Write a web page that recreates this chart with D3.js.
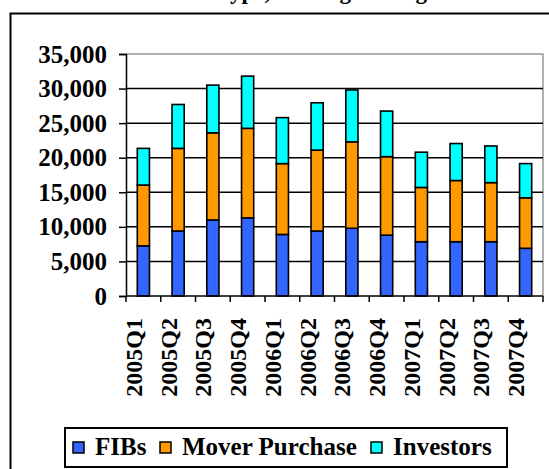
<html>
<script src="https://d3js.org/d3.v7.min.js"></script>
<style>
body{margin:0;background:#fff;}
svg text{font-family:"Liberation Serif","Times New Roman",serif;font-weight:bold;}
</style>
<div id="chart"></div>
<script>
const quarters = ['2005Q1','2005Q2','2005Q3','2005Q4','2006Q1','2006Q2','2006Q3','2006Q4','2007Q1','2007Q2','2007Q3','2007Q4'];
const fibs     = [7250, 9400, 11000, 11300, 8900, 9400, 9800, 8800, 7850, 7850, 7850, 6900];
const movers   = [8800, 11950, 12600, 12950, 10250, 11700, 12500, 11350, 7850, 8850, 8550, 7300];
const investors= [5300, 6350, 6900, 7550, 6650, 6850, 7500, 6600, 5100, 5350, 5300, 4950];
const seriesNames = ['FIBs','Mover Purchase','Investors'];
const seriesColors = ['#3366ff','#ff9900','#00ffff'];
const yTicks = [0,5000,10000,15000,20000,25000,30000,35000];

const W = 549, H = 469;
const plot = {left:126, right:543, top:54, bottom:296};

const svg = d3.select('#chart').append('svg')
  .attr('width', W).attr('height', H);

// outer frame (runs off the right and bottom edges)
svg.append('rect')
  .attr('x',10.5).attr('y',13.5).attr('width',560).attr('height',480)
  .attr('fill','none').attr('stroke','#000').attr('stroke-width',2);

// title, only its descenders show at the top edge
svg.append('text')
  .attr('text-anchor','middle')
  .attr('x',337).attr('y',-1.5)
  .style('font-size','23px')
  .text('Type, Wellington Region');

const x = d3.scaleBand()
  .domain(quarters)
  .range([plot.left, plot.right])
  .paddingInner(0.65).paddingOuter(0.325);

const y = d3.scaleLinear()
  .domain([0,35000])
  .range([plot.bottom, plot.top]);

// plot area border (gray top/right)
svg.append('path')
  .attr('d',`M${plot.left},${plot.top}H${plot.right}V${plot.bottom}`)
  .attr('fill','none').attr('stroke','#999').attr('stroke-width',1.5);

// gridlines
svg.append('g').selectAll('line')
  .data(yTicks.filter(d=>d>0 && d<35000))
  .enter().append('line')
    .attr('x1',plot.left).attr('x2',plot.right)
    .attr('y1',d=>y(d)).attr('y2',d=>y(d))
    .attr('stroke','#000').attr('stroke-width',1.5);

// stacked bars
const rows = quarters.map((q,i)=>({q, 'FIBs':fibs[i], 'Mover Purchase':movers[i], 'Investors':investors[i]}));
const stack = d3.stack().keys(seriesNames)(rows);

svg.append('g').selectAll('g')
  .data(stack)
  .enter().append('g')
    .attr('fill',(d,i)=>seriesColors[i])
  .selectAll('rect')
  .data(d=>d)
  .enter().append('rect')
    .attr('x',d=>x(d.data.q))
    .attr('y',d=>y(d[1]))
    .attr('width',x.bandwidth())
    .attr('height',d=>y(d[0])-y(d[1]))
    .attr('stroke','#000').attr('stroke-width',1.6);

// y axis
const yAxis = svg.append('g')
  .attr('transform',`translate(${plot.left},0)`)
  .call(d3.axisLeft(y).tickValues(yTicks).tickFormat(d3.format(',')).tickSize(7).tickPadding(12));
yAxis.select('.domain').attr('stroke','#000').attr('stroke-width',1.5);
yAxis.selectAll('.tick line').attr('stroke','#000').attr('stroke-width',1.5);
yAxis.selectAll('text').style('font-size','25px').attr('fill','#000');

// x axis
const xAxis = svg.append('g')
  .attr('transform',`translate(0,${plot.bottom})`);
xAxis.append('line')
  .attr('x1',plot.left).attr('x2',plot.right)
  .attr('stroke','#000').attr('stroke-width',1.5);
xAxis.selectAll('.tk')
  .data(d3.range(quarters.length+1))
  .enter().append('line')
    .attr('x1',i=>plot.left+i*x.step()).attr('x2',i=>plot.left+i*x.step())
    .attr('y1',0).attr('y2',6)
    .attr('stroke','#000').attr('stroke-width',1.5);
xAxis.selectAll('text')
  .data(quarters)
  .enter().append('text')
    .attr('transform',d=>`translate(${x(d)+x.bandwidth()/2-1.5},22) rotate(-90)`)
    .attr('text-anchor','end')
    .style('font-size','24px')
    .text(d=>d);

// legend
const lg = svg.append('g');
lg.append('rect')
  .attr('x',65).attr('y',428).attr('width',442).attr('height',39)
  .attr('fill','#fff').attr('stroke','#000').attr('stroke-width',2);
const legendX = [73, 160, 371];
const items = lg.selectAll('g.item')
  .data(seriesNames)
  .enter().append('g')
    .attr('transform',(d,i)=>`translate(${legendX[i]},0)`);
items.append('rect')
  .attr('x',0).attr('y',442).attr('width',11).attr('height',11)
  .attr('fill',(d,i)=>seriesColors[i]).attr('stroke','#000').attr('stroke-width',1.5);
items.append('text')
  .attr('x',22).attr('y',455)
  .style('font-size','25px')
  .text(d=>d);
</script>
</html>
